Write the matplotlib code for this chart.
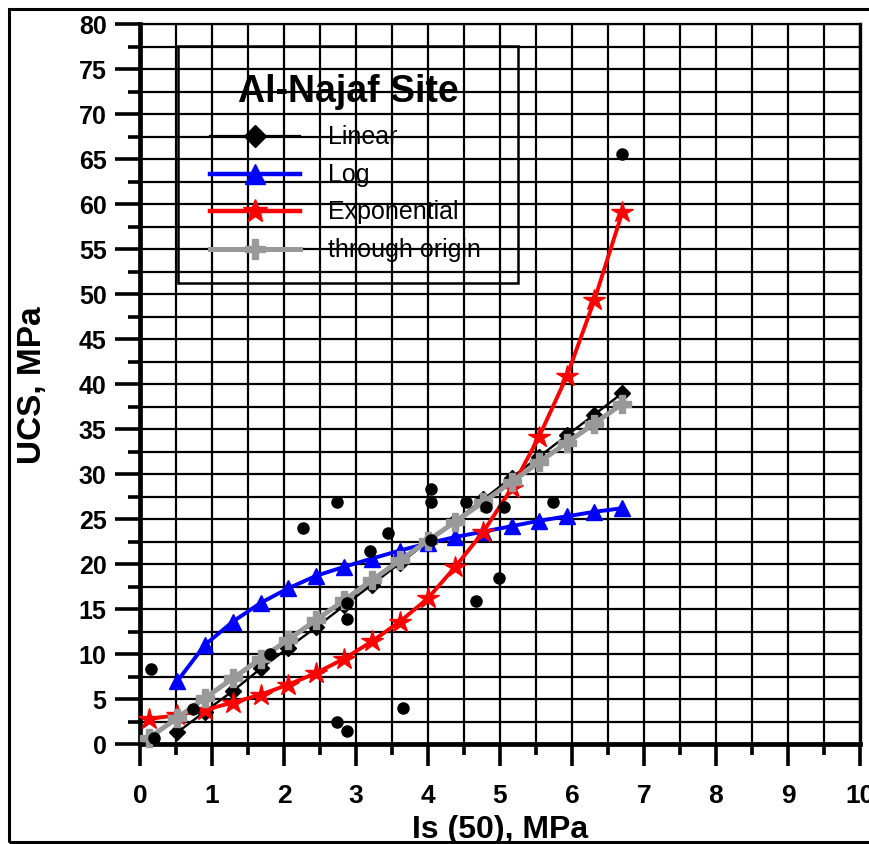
import matplotlib
matplotlib.use("Agg")
import matplotlib.pyplot as plt
from matplotlib.patches import Rectangle
from matplotlib.lines import Line2D
from matplotlib.ticker import MultipleLocator

plt.rcParams['font.family'] = ['Liberation Sans', 'DejaVu Sans']

# Point load index values where the fitted relations are evaluated
x_fit = [0.13, 0.52, 0.90, 1.29, 1.68, 2.06, 2.45, 2.84, 3.22, 3.61,
         4.00, 4.38, 4.77, 5.16, 5.54, 5.93, 6.31, 6.70]

# Fitted UCS for each relation (linear and log start at the second x value)
linear_y = [1.3, 3.6, 5.9, 8.4, 10.7, 13.0, 15.4, 17.7, 20.1, 22.5,
            24.8, 27.2, 29.6, 31.9, 34.3, 36.6, 39.0]
log_y = [7.0, 11.0, 13.6, 15.7, 17.3, 18.7, 19.7, 20.6, 21.5, 22.3,
         23.0, 23.6, 24.2, 24.8, 25.3, 25.8, 26.2]
exp_y = [2.8, 3.2, 3.8, 4.6, 5.5, 6.6, 7.9, 9.5, 11.4, 13.6,
         16.2, 19.7, 23.6, 28.4, 34.1, 40.9, 49.3, 59.1]
origin_y = [0.7, 2.9, 5.1, 7.3, 9.5, 11.6, 13.8, 16.0, 18.2, 20.4,
            22.6, 24.7, 26.9, 29.1, 31.3, 33.5, 35.6, 37.8]

# Measured samples
obs_x = [0.15, 0.19, 0.73, 1.81, 2.26, 2.74, 2.74, 2.88, 2.87, 2.87, 3.20, 3.44,
         3.65, 4.04, 4.04, 4.04, 4.53, 4.66, 4.81, 4.99, 5.06, 5.74, 6.69]
obs_y = [8.3, 0.7, 3.9, 10.0, 24.0, 26.9, 2.4, 1.4, 15.7, 13.9, 21.4, 23.4,
         4.0, 28.3, 26.9, 22.7, 26.9, 15.9, 26.3, 18.5, 26.3, 26.9, 65.6]

legend_title = "Al-Najaf Site"
series_labels = ["Linear", "Log", "Exponential", "through origin"]
x_ticks = list(range(0, 11))
y_ticks = list(range(0, 81, 5))

GRAY = "#999999"

fig = plt.figure(figsize=(8.7, 8.45), dpi=100)
ax = fig.add_axes([140 / 870, 1 - 745 / 845, 720 / 870, 720 / 845])

ax.set_xlim(0, 10)
ax.set_ylim(0, 80)
ax.xaxis.set_major_locator(MultipleLocator(1))
ax.xaxis.set_minor_locator(MultipleLocator(0.5))
ax.yaxis.set_major_locator(MultipleLocator(5))
ax.yaxis.set_minor_locator(MultipleLocator(2.5))
ax.set_xticks(x_ticks)
ax.set_yticks(y_ticks)
ax.set_xticklabels([str(v) for v in x_ticks], fontsize=19, fontweight='bold')
ax.set_yticklabels([str(v) for v in y_ticks], fontsize=18, fontweight='bold')

ax.grid(True, which='both', color='black', linewidth=1.6, zorder=0)
ax.set_axisbelow(True)

ax.tick_params(axis='x', which='major', direction='out', length=16, width=2.6, pad=12)
ax.tick_params(axis='x', which='minor', direction='out', length=8, width=2.6)
ax.tick_params(axis='y', which='major', direction='out', length=18, width=2.6, pad=6)
ax.tick_params(axis='y', which='minor', direction='out', length=9, width=2.6)

ax.spines['left'].set_linewidth(3.4)
ax.spines['bottom'].set_linewidth(3.4)
ax.spines['right'].set_linewidth(2.4)
ax.spines['top'].set_linewidth(1.6)

ax.plot(x_fit[1:], linear_y, color='black', lw=1.7, marker='D', ms=8,
        zorder=3, clip_on=False)
ax.plot(x_fit[1:], log_y, color='#0000FF', lw=2.8, marker='^', ms=11,
        zorder=3, clip_on=False)
ax.plot(x_fit, exp_y, color='#FF0000', lw=2.8, marker='*', ms=16,
        zorder=3, clip_on=False)
ax.plot(x_fit, origin_y, color=GRAY, lw=3.6, marker='P', ms=13,
        zorder=4, clip_on=False)
ax.plot(obs_x, obs_y, linestyle='none', marker='o', ms=8, color='black',
        zorder=5, clip_on=False)

ax.set_xlabel("Is (50), MPa", fontsize=23, fontweight='bold', labelpad=5)
ax.set_ylabel("UCS, MPa", fontsize=24, fontweight='bold', labelpad=22)

# Hand-built key: open frame with the grid showing through
ax.add_patch(Rectangle((0.0528, 0.640), 0.472, 0.3294, transform=ax.transAxes,
                       fill=False, edgecolor='black', lw=1.8, zorder=6))
ax.text(0.289, 0.907, legend_title, transform=ax.transAxes, fontsize=27,
        fontweight='bold', ha='center', va='center', zorder=7)

key_styles = [
    dict(color='black', lw=1.6, marker='D', ms=11),
    dict(color='#0000FF', lw=3.2, marker='^', ms=15),
    dict(color='#FF0000', lw=3.2, marker='*', ms=18),
    dict(color=GRAY, lw=3.6, marker='P', ms=15),
]
key_rows = [0.8444, 0.7917, 0.7403, 0.6875]
for label, style, yk in zip(series_labels, key_styles, key_rows):
    ax.add_line(Line2D([0.0972, 0.2222], [yk, yk], transform=ax.transAxes,
                       color=style['color'], lw=style['lw'], zorder=7))
    ax.add_line(Line2D([0.1597], [yk], transform=ax.transAxes,
                       color=style['color'], marker=style['marker'],
                       ms=style['ms'], linestyle='none', zorder=7))
    ax.text(0.2611, yk, label, transform=ax.transAxes, fontsize=18,
            ha='left', va='center', zorder=7)

# Outer page frame
fig.add_artist(Rectangle((9 / 870, 2 / 845), 1.0, (843 - 10) / 845,
                         transform=fig.transFigure, fill=False,
                         edgecolor='black', lw=2.2))

fig.savefig("out.png", dpi=100)
